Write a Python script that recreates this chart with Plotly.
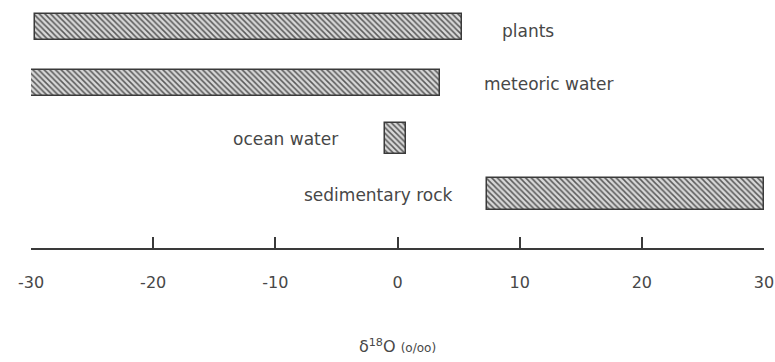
import plotly.graph_objects as go

categories = ["plants", "meteoric water", "ocean water", "sedimentary rock"]
low_values = [-29.7, -30.0, -1.0, 7.3]
high_values = [5.3, 3.5, 0.7, 30.0]
bar_heights = [0.47, 0.47, 0.56, 0.56]
tick_values = [-30, -20, -10, 0, 10, 20, 30]
tick_labels = ["-30", "-20", "-10", "0", "10", "20", "30"]

# label placement: side of bar (right/left) and pixel offsets
label_side = ["right", "right", "left", "left"]
label_xshift = [38, 42, -45, -32]
label_yshift = [-4, -1, -1, -1]

FONT = "DejaVu Sans, Verdana, sans-serif"
TXT = "#474747"

fig = go.Figure()
fig.add_trace(go.Bar(
    y=categories,
    x=[h - l for l, h in zip(low_values, high_values)],
    base=low_values,
    orientation="h",
    width=bar_heights,
    marker=dict(
        color="#d9d9d9",
        line=dict(color="#3a3a3a", width=1.5),
        pattern=dict(shape="\\", fgcolor="#5a5a5a", bgcolor="#d8d8d8",
                     size=4, solidity=0.38, fillmode="replace"),
    ),
    showlegend=False,
    hoverinfo="skip",
))

for cat, lo, hi, side, xs, ys in zip(categories, low_values, high_values,
                                     label_side, label_xshift, label_yshift):
    fig.add_annotation(
        x=hi if side == "right" else lo,
        y=cat,
        text=cat,
        showarrow=False,
        xanchor="left" if side == "right" else "right",
        xshift=xs,
        yshift=ys,
        font=dict(family=FONT, size=17, color=TXT),
    )

fig.update_layout(
    width=775,
    height=362,
    margin=dict(l=31, r=11, t=0, b=114),
    paper_bgcolor="white",
    plot_bgcolor="white",
    bargap=0,
    xaxis=dict(
        range=[-30, 30],
        tickvals=tick_values,
        ticktext=tick_labels,
        ticks="inside",
        ticklen=11,
        tickwidth=1.5,
        tickcolor="#3a3a3a",
        showline=True,
        linecolor="#3a3a3a",
        linewidth=2,
        showgrid=False,
        zeroline=False,
        ticklabelstandoff=19,
        tickfont=dict(family=FONT, size=16, color=TXT),
        title=dict(
            text="δ<sup>18</sup>O <span style='font-size:12px'>(o/oo)</span>",
            font=dict(family=FONT, size=16, color=TXT),
            standoff=50,
        ),
        fixedrange=True,
    ),
    yaxis=dict(
        categoryorder="array",
        categoryarray=categories,
        range=[3.97, -0.485],
        showticklabels=False,
        ticks="",
        showgrid=False,
        zeroline=False,
        showline=False,
        fixedrange=True,
    ),
)

fig.write_html("out.html")
